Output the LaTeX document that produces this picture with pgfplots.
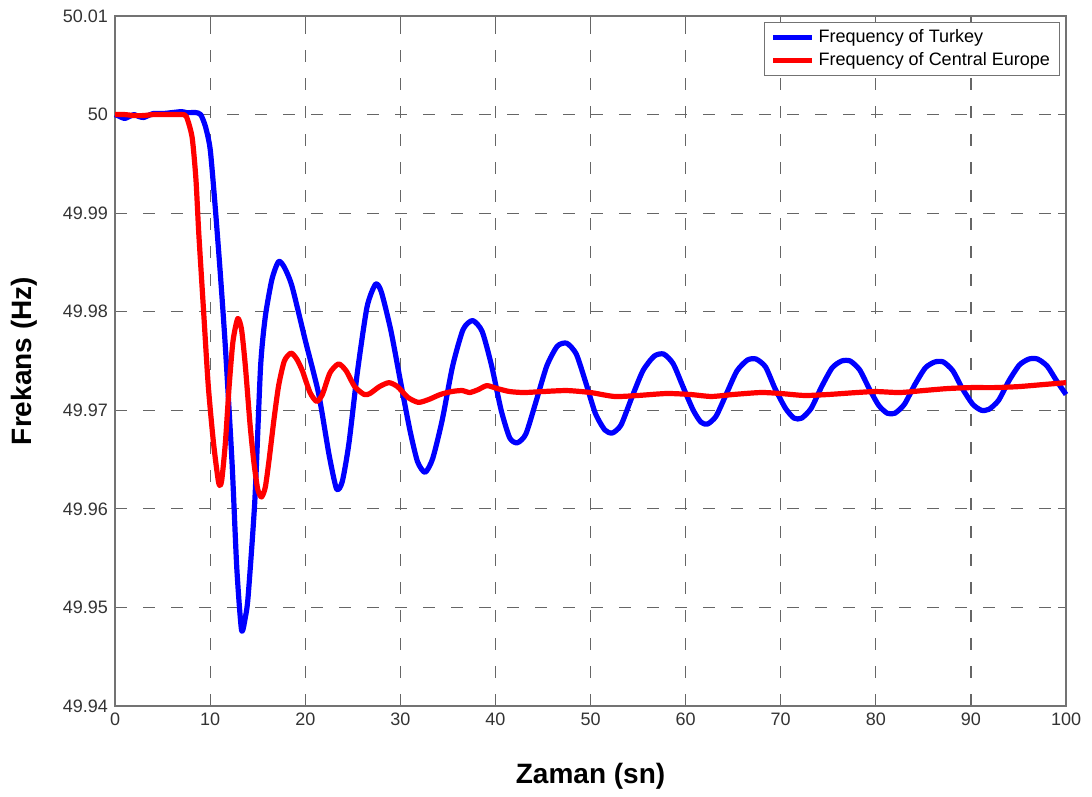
\documentclass[border=0pt]{standalone}
\usepackage{fontspec}
\setmainfont{Liberation Sans}
\usepackage{pgfplots}
\pgfplotsset{compat=1.18}
\begin{document}
\begin{tikzpicture}
\begin{axis}[
  scale only axis,
  width=475.5pt, height=345pt,
  xmin=0, xmax=100, ymin=49.94, ymax=50.01,
  xtick={0,10,...,100},
  ytick={49.94,49.95,49.96,49.97,49.98,49.99,50,50.01},
  yticklabels={49.94,49.95,49.96,49.97,49.98,49.99,50,50.01},
  /pgf/number format/assume math mode=true,
  tick label style={font=\fontsize{9}{11}\selectfont, text=black!80},
  xtick pos=both, ytick pos=both,
  tick align=inside,
  major tick length=4pt,
  every tick/.style={black!60, line width=0.6pt},
  axis line style={black!55, line width=0.8pt},
  grid=major,
  major grid style={black!60, line width=0.6pt, dash pattern=on 6pt off 8pt},
  xlabel={\bfseries Zaman (sn)},
  ylabel={\bfseries Frekans (Hz)},
  label style={font=\fontsize{14}{16}\selectfont\bfseries},
  xlabel style={yshift=-12pt},
  ylabel style={yshift=6pt},
  legend style={at={(0.994,0.991)}, anchor=north east, draw=black!55, line width=0.5pt,
    font=\fontsize{9}{10.5}\selectfont, inner xsep=3pt, inner ysep=1.5pt,
    row sep=-0.5pt},
  legend cell align=left,
  legend image code/.code={\draw[#1, line width=2.5pt] (0pt,0pt) -- (19.5pt,0pt);},
  clip=false,
]
\path (rel axis cs:-0.121,-0.1203) rectangle (rel axis cs:1.0273,1.0232);
\addplot[blue, line width=2.6pt, line join=round, smooth, tension=0.4] coordinates {
(0,50.0000)(0.5,49.9998)(1.0,49.9996)(1.5,49.9998)(2.0,50.0000)(2.5,49.9998)(3.0,49.9997)(3.5,49.9999)(4.0,50.0001)(5.0,50.0001)(6.0,50.0002)(7.0,50.0003)(7.5,50.0002)(8.0,50.0002)(8.5,50.0002)(9.0,50.0000)(9.5,49.9988)(10.0,49.9965)(10.5,49.9910)(11.05,49.9841)(11.6,49.9764)(12.3,49.9647)(12.8,49.9540)(13.3,49.9477)(13.7,49.9490)(14.0,49.9512)(14.7,49.9609)(15.3,49.9744)(15.8,49.9795)(16.5,49.9833)(17.2,49.9851)(17.8,49.9845)(18.6,49.9826)(20.0,49.9771)(21.4,49.9717)(22.5,49.9655)(23.3,49.9620)(23.9,49.9628)(24.6,49.9667)(25.5,49.9740)(26.5,49.9805)(27.4,49.9828)(28.0,49.9820)(29.0,49.9781)(30.0,49.9730)(31.0,49.9680)(31.8,49.9648)(32.6,49.9637)(33.4,49.9651)(34.4,49.9690)(35.5,49.9745)(36.6,49.9782)(37.6,49.9791)(38.6,49.9780)(39.6,49.9745)(40.6,49.9700)(41.5,49.9672)(42.3,49.9667)(43.2,49.9676)(44.3,49.9710)(45.4,49.9745)(46.5,49.9765)(47.5,49.9768)(48.5,49.9757)(49.5,49.9728)(50.5,49.9697)(51.5,49.9680)(52.3,49.9677)(53.2,49.9685)(54.3,49.9712)(55.5,49.9740)(56.7,49.9755)(57.7,49.9757)(58.7,49.9747)(59.8,49.9722)(60.8,49.9700)(61.6,49.9688)(62.3,49.9686)(63.2,49.9694)(64.3,49.9717)(65.4,49.9740)(66.5,49.9751)(67.4,49.9752)(68.4,49.9744)(69.4,49.9722)(70.5,49.9702)(71.4,49.9692)(72.2,49.9692)(73.2,49.9702)(74.3,49.9724)(75.4,49.9743)(76.4,49.9750)(77.3,49.9750)(78.3,49.9741)(79.3,49.9722)(80.3,49.9705)(81.2,49.9697)(82.0,49.9697)(83.0,49.9706)(84.1,49.9726)(85.2,49.9743)(86.2,49.9749)(87.1,49.9749)(88.1,49.9740)(89.1,49.9722)(90.2,49.9706)(91.1,49.9700)(91.9,49.9701)(92.9,49.9710)(94.0,49.9730)(95.1,49.9746)(96.1,49.9752)(97.0,49.9752)(98.0,49.9745)(99.0,49.9730)(100,49.9716)
};
\addlegendentry{Frequency of Turkey}
\addplot[red, line width=2.6pt, line join=round, smooth, tension=0.4] coordinates {
(0,50.0000)(1,50.0000)(2,49.9999)(3,49.9999)(4,50.0000)(5,50.0000)(6,50.0000)(7,50.0000)(7.5,49.9998)(8.1,49.9977)(8.5,49.9935)(8.8,49.9880)(9.3,49.9802)(9.8,49.9725)(10.35,49.9667)(10.9,49.9626)(11.2,49.9628)(11.6,49.9667)(12.0,49.9725)(12.4,49.9770)(12.9,49.9793)(13.3,49.9782)(13.7,49.9745)(14.2,49.9685)(14.6,49.9647)(15.0,49.9620)(15.4,49.9612)(15.8,49.9622)(16.2,49.9650)(16.7,49.9690)(17.2,49.9725)(17.8,49.9750)(18.5,49.9758)(19.1,49.9752)(19.7,49.9740)(20.5,49.9718)(21.2,49.9709)(21.8,49.9716)(22.6,49.9738)(23.5,49.9747)(24.3,49.9740)(25.2,49.9724)(26.2,49.9716)(26.8,49.9717)(27.8,49.9724)(28.8,49.9728)(29.7,49.9724)(30.8,49.9713)(31.9,49.9708)(33.0,49.9711)(34.2,49.9716)(35.4,49.9719)(36.5,49.9720)(37.3,49.9718)(38.2,49.9721)(39.1,49.9725)(40.2,49.9722)(41.5,49.9719)(43.0,49.9718)(45.0,49.9719)(47.5,49.9720)(50.0,49.9718)(52.5,49.9714)(55.0,49.9715)(58.0,49.9717)(60.5,49.9716)(62.7,49.9714)(65.0,49.9716)(67.9,49.9718)(70.0,49.9717)(72.5,49.9715)(75.0,49.9716)(78.0,49.9718)(80.0,49.9719)(82.5,49.9718)(85.0,49.9720)(87.5,49.9722)(90.0,49.9723)(92.5,49.9723)(95.0,49.9724)(97.5,49.9726)(100,49.9728)
};
\addlegendentry{Frequency of Central Europe}
\end{axis}
\end{tikzpicture}
\end{document}
